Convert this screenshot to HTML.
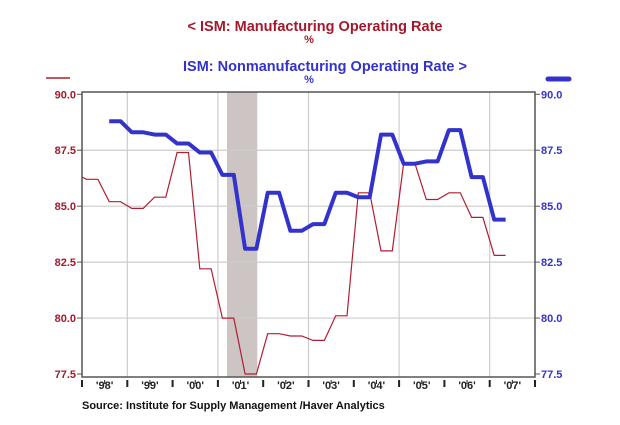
<!DOCTYPE html>
<html><head><meta charset="utf-8"><style>
body{margin:0;background:#fff;}
svg{display:block;font-family:"Liberation Sans",Arial,sans-serif;}
</style></head><body>
<svg id="chart" width="620" height="425" viewBox="0 0 620 425">
<text x="315" y="31" text-anchor="middle" font-size="14.5" font-weight="bold" fill="#a3192b">&lt;  ISM: Manufacturing Operating Rate</text>
<text x="309" y="43" text-anchor="middle" font-size="11" font-weight="bold" fill="#a3192b">%</text>
<text x="325" y="71" text-anchor="middle" font-size="14.5" font-weight="bold" fill="#3333cc">ISM: Nonmanufacturing Operating Rate  &gt;</text>
<text x="309" y="83" text-anchor="middle" font-size="11" font-weight="bold" fill="#3333cc">%</text>
<line x1="46" y1="78" x2="70" y2="78" stroke="#b01e30" stroke-width="1.5"/>
<line x1="548" y1="79" x2="569" y2="79" stroke="#3333cc" stroke-width="5" stroke-linecap="round"/>
<g id="plot"></g>
<text x="82" y="409" font-size="11" font-weight="bold" fill="#111">Source:  Institute for Supply Management /Haver Analytics</text>
</svg>
<script>
const yearLabels=["98","99","00","01","02","03","04","05","06","07"];
const leftTicks=[77.5,80.0,82.5,85.0,87.5,90.0];
const rightTicks=[77.5,80.0,82.5,85.0,87.5,90.0];
const manufacturing=[86.2,85.2,84.9,85.4,87.4,82.2,80.0,77.5,79.3,79.2,79.0,80.1,85.6,83.0,86.9,85.3,85.6,84.5,82.8];
const nonmanufacturing=[null,88.8,88.3,88.2,87.8,87.4,86.4,83.1,85.6,83.9,84.2,85.6,85.4,88.2,86.9,87.0,88.4,86.3,84.4];
const recession=[2001.2,2001.87];
const firstReport=1998.1, reportStep=0.5, holdLen=0.25;

const NS="http://www.w3.org/2000/svg";
const g=document.getElementById('plot');
const X0=82,X1=535,Y0=92,Y1=377;
const xs=t=>X0+(t-1998)*(X1-X0)/10;
const ys=v=>94.3+(90-v)*(374-94.3)/12.5;
function mk(tag,attrs){const e=document.createElementNS(NS,tag);for(const k in attrs)e.setAttribute(k,attrs[k]);g.appendChild(e);return e;}

const r=mk('rect',{x:xs(recession[0]),y:Y0,width:xs(recession[1])-xs(recession[0]),height:Y1-Y0,fill:'#cdc5c3'});



for(let y=1999;y<=2007;y+=2){const l=mk('line',{x1:xs(y),y1:Y0,x2:xs(y),y2:Y1,stroke:'#ccc','stroke-width':1.2});

}
leftTicks.forEach(v=>{if(v>77.5&&v<90){const l=mk('line',{x1:X0,y1:ys(v),x2:X1,y2:ys(v),stroke:'#ccc','stroke-width':1.2});

}});
const fr=mk('rect',{x:X0,y:Y0,width:X1-X0,height:Y1-Y0,fill:'none',stroke:'#555','stroke-width':1.5});



leftTicks.forEach(v=>{mk('line',{x1:X0-5,y1:ys(v),x2:X0,y2:ys(v),stroke:'#555'});
const t=mk('text',{x:X0-6,y:ys(v)+4,'text-anchor':'end','font-size':11,'font-weight':'bold',fill:'#a3192b'});t.textContent=v.toFixed(1);

});
rightTicks.forEach(v=>{mk('line',{x1:X1,y1:ys(v),x2:X1+5,y2:ys(v),stroke:'#555'});
const t=mk('text',{x:X1+6,y:ys(v)+4,'font-size':11,'font-weight':'bold',fill:'#3333cc'});t.textContent=v.toFixed(1);

});
yearLabels.forEach((lab,i)=>{const y=1998+i;
mk('line',{x1:xs(y),y1:Y1+3,x2:xs(y),y2:Y1+10,stroke:'#222','stroke-width':2});
mk('line',{x1:xs(y+0.5),y1:Y1+3,x2:xs(y+0.5),y2:Y1+7,stroke:'#222','stroke-width':1});
const t=mk('text',{x:xs(y+0.5),y:Y1+12,'text-anchor':'middle','font-size':11,'font-weight':'bold',fill:'#222'});t.textContent="'"+lab+"'";

});
mk('line',{x1:xs(2008),y1:Y1+3,x2:xs(2008),y2:Y1+10,stroke:'#222','stroke-width':2});

function path(vals){let pts=[];vals.forEach((v,i)=>{if(v==null)return;const t=firstReport+i*reportStep;pts.push(xs(t).toFixed(1)+','+ys(v).toFixed(1));pts.push(xs(t+holdLen).toFixed(1)+','+ys(v).toFixed(1));});return pts.join(' ');}
const m=mk('polyline',{points:(xs(1998)+','+ys(86.3))+' '+path(manufacturing),fill:'none',stroke:'#b01e30','stroke-width':1.2});


const n=mk('polyline',{points:path(nonmanufacturing),fill:'none',stroke:'#3333cc','stroke-width':4,'stroke-linejoin':'round'});


</script>
</body></html>
